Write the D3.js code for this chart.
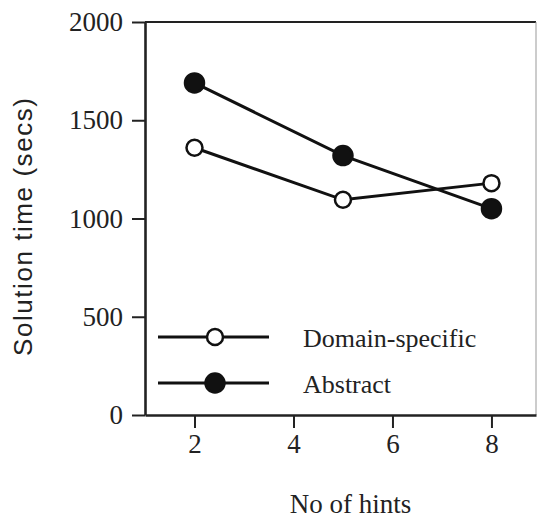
<!DOCTYPE html>
<html>
<head>
<meta charset="utf-8">
<script src="https://cdn.jsdelivr.net/npm/d3@7"></script>
<style>
  body { margin: 0; background: #fff; }
  text { fill: #222; }
</style>
</head>
<body>
<script>
'use strict';

const hints = [2, 5, 8];
const domainSpecific = [1360, 1095, 1180];
const abstractTimes = [1690, 1320, 1050];
const xTicks = [2, 4, 6, 8];
const yTicks = [0, 500, 1000, 1500, 2000];
const seriesNames = ['Domain-specific', 'Abstract'];

const width = 539;
const height = 518;
const margin = {left: 145, right: 3, top: 22, bottom: 103};

const serif = '"Liberation Serif", "Times New Roman", serif';

const xScale = d3.scaleLinear()
  .domain([1, 8.9])
  .range([margin.left, width - margin.right]);

const yScale = d3.scaleLinear()
  .domain([0, 2000])
  .range([height - margin.bottom, margin.top]);

const svg = d3.select('body').append('svg')
  .attr('width', width)
  .attr('height', height);

// frame: top and right edges
svg.append('line')
  .attr('x1', margin.left).attr('x2', width - margin.right)
  .attr('y1', margin.top).attr('y2', margin.top)
  .attr('stroke', '#222').attr('stroke-width', 2);
svg.append('line')
  .attr('x1', width - margin.right).attr('x2', width - margin.right)
  .attr('y1', margin.top).attr('y2', height - margin.bottom)
  .attr('stroke', '#999').attr('stroke-width', 1);

const xAxis = svg.append('g')
  .attr('transform', 'translate(0,' + (height - margin.bottom) + ')')
  .call(d3.axisBottom(xScale).tickValues(xTicks).tickFormat(d3.format('d'))
    .tickSize(13).tickPadding(6).tickSizeOuter(0));

const yAxis = svg.append('g')
  .attr('transform', 'translate(' + margin.left + ',0)')
  .call(d3.axisLeft(yScale).tickValues(yTicks).tickFormat(d3.format('d'))
    .tickSize(13).tickPadding(9).tickSizeOuter(0));

[xAxis, yAxis].forEach(ax => {
  ax.attr('font-family', serif).attr('font-size', 27);
  ax.select('.domain').attr('stroke', '#222').attr('stroke-width', 2.6);
  ax.selectAll('.tick line').attr('stroke', '#222').attr('stroke-width', 2);
  ax.selectAll('.tick text')
    .style('font-family', serif)
    .style('font-size', '27px')
    .attr('fill', '#222');
});

svg.append('text')
  .attr('x', xScale(5.15))
  .attr('y', 513)
  .attr('text-anchor', 'middle')
  .attr('font-family', serif)
  .attr('font-size', 27)
  .text('No of hints');

svg.append('text')
  .attr('transform', 'translate(32,227) rotate(-90)')
  .attr('text-anchor', 'middle')
  .attr('font-family', '"Liberation Sans", Arial, sans-serif')
  .attr('font-size', 26)
  .attr('fill', '#333')
  .attr('textLength', 258)
  .attr('lengthAdjust', 'spacing')
  .text('Solution time (secs)');

const line = d3.line()
  .x(d => xScale(d[0]))
  .y(d => yScale(d[1]));

const series = [
  {name: seriesNames[0], values: d3.zip(hints, domainSpecific), fill: '#fff', r: 8},
  {name: seriesNames[1], values: d3.zip(hints, abstractTimes), fill: '#111', r: 9.5}
];

series.forEach(s => {
  svg.append('path')
    .datum(s.values)
    .attr('d', line)
    .attr('fill', 'none')
    .attr('stroke', '#111')
    .attr('stroke-width', 3);

  svg.append('g').selectAll('circle')
    .data(s.values)
    .join('circle')
    .attr('cx', d => xScale(d[0]))
    .attr('cy', d => yScale(d[1]))
    .attr('r', s.r)
    .attr('fill', s.fill)
    .attr('stroke', '#111')
    .attr('stroke-width', 2.5);
});

// legend
const legend = svg.append('g');
series.forEach((s, i) => {
  const y = 337 + i * 46;
  legend.append('line')
    .attr('x1', 158).attr('x2', 269)
    .attr('y1', y).attr('y2', y)
    .attr('stroke', '#111').attr('stroke-width', 3);
  legend.append('circle')
    .attr('cx', 215).attr('cy', y)
    .attr('r', s.r)
    .attr('fill', s.fill)
    .attr('stroke', '#111')
    .attr('stroke-width', 2.5);
  legend.append('text')
    .attr('x', 303).attr('y', y + 10)
    .attr('font-family', serif)
    .attr('font-size', 26)
    .text(s.name);
});
</script>
</body>
</html>
